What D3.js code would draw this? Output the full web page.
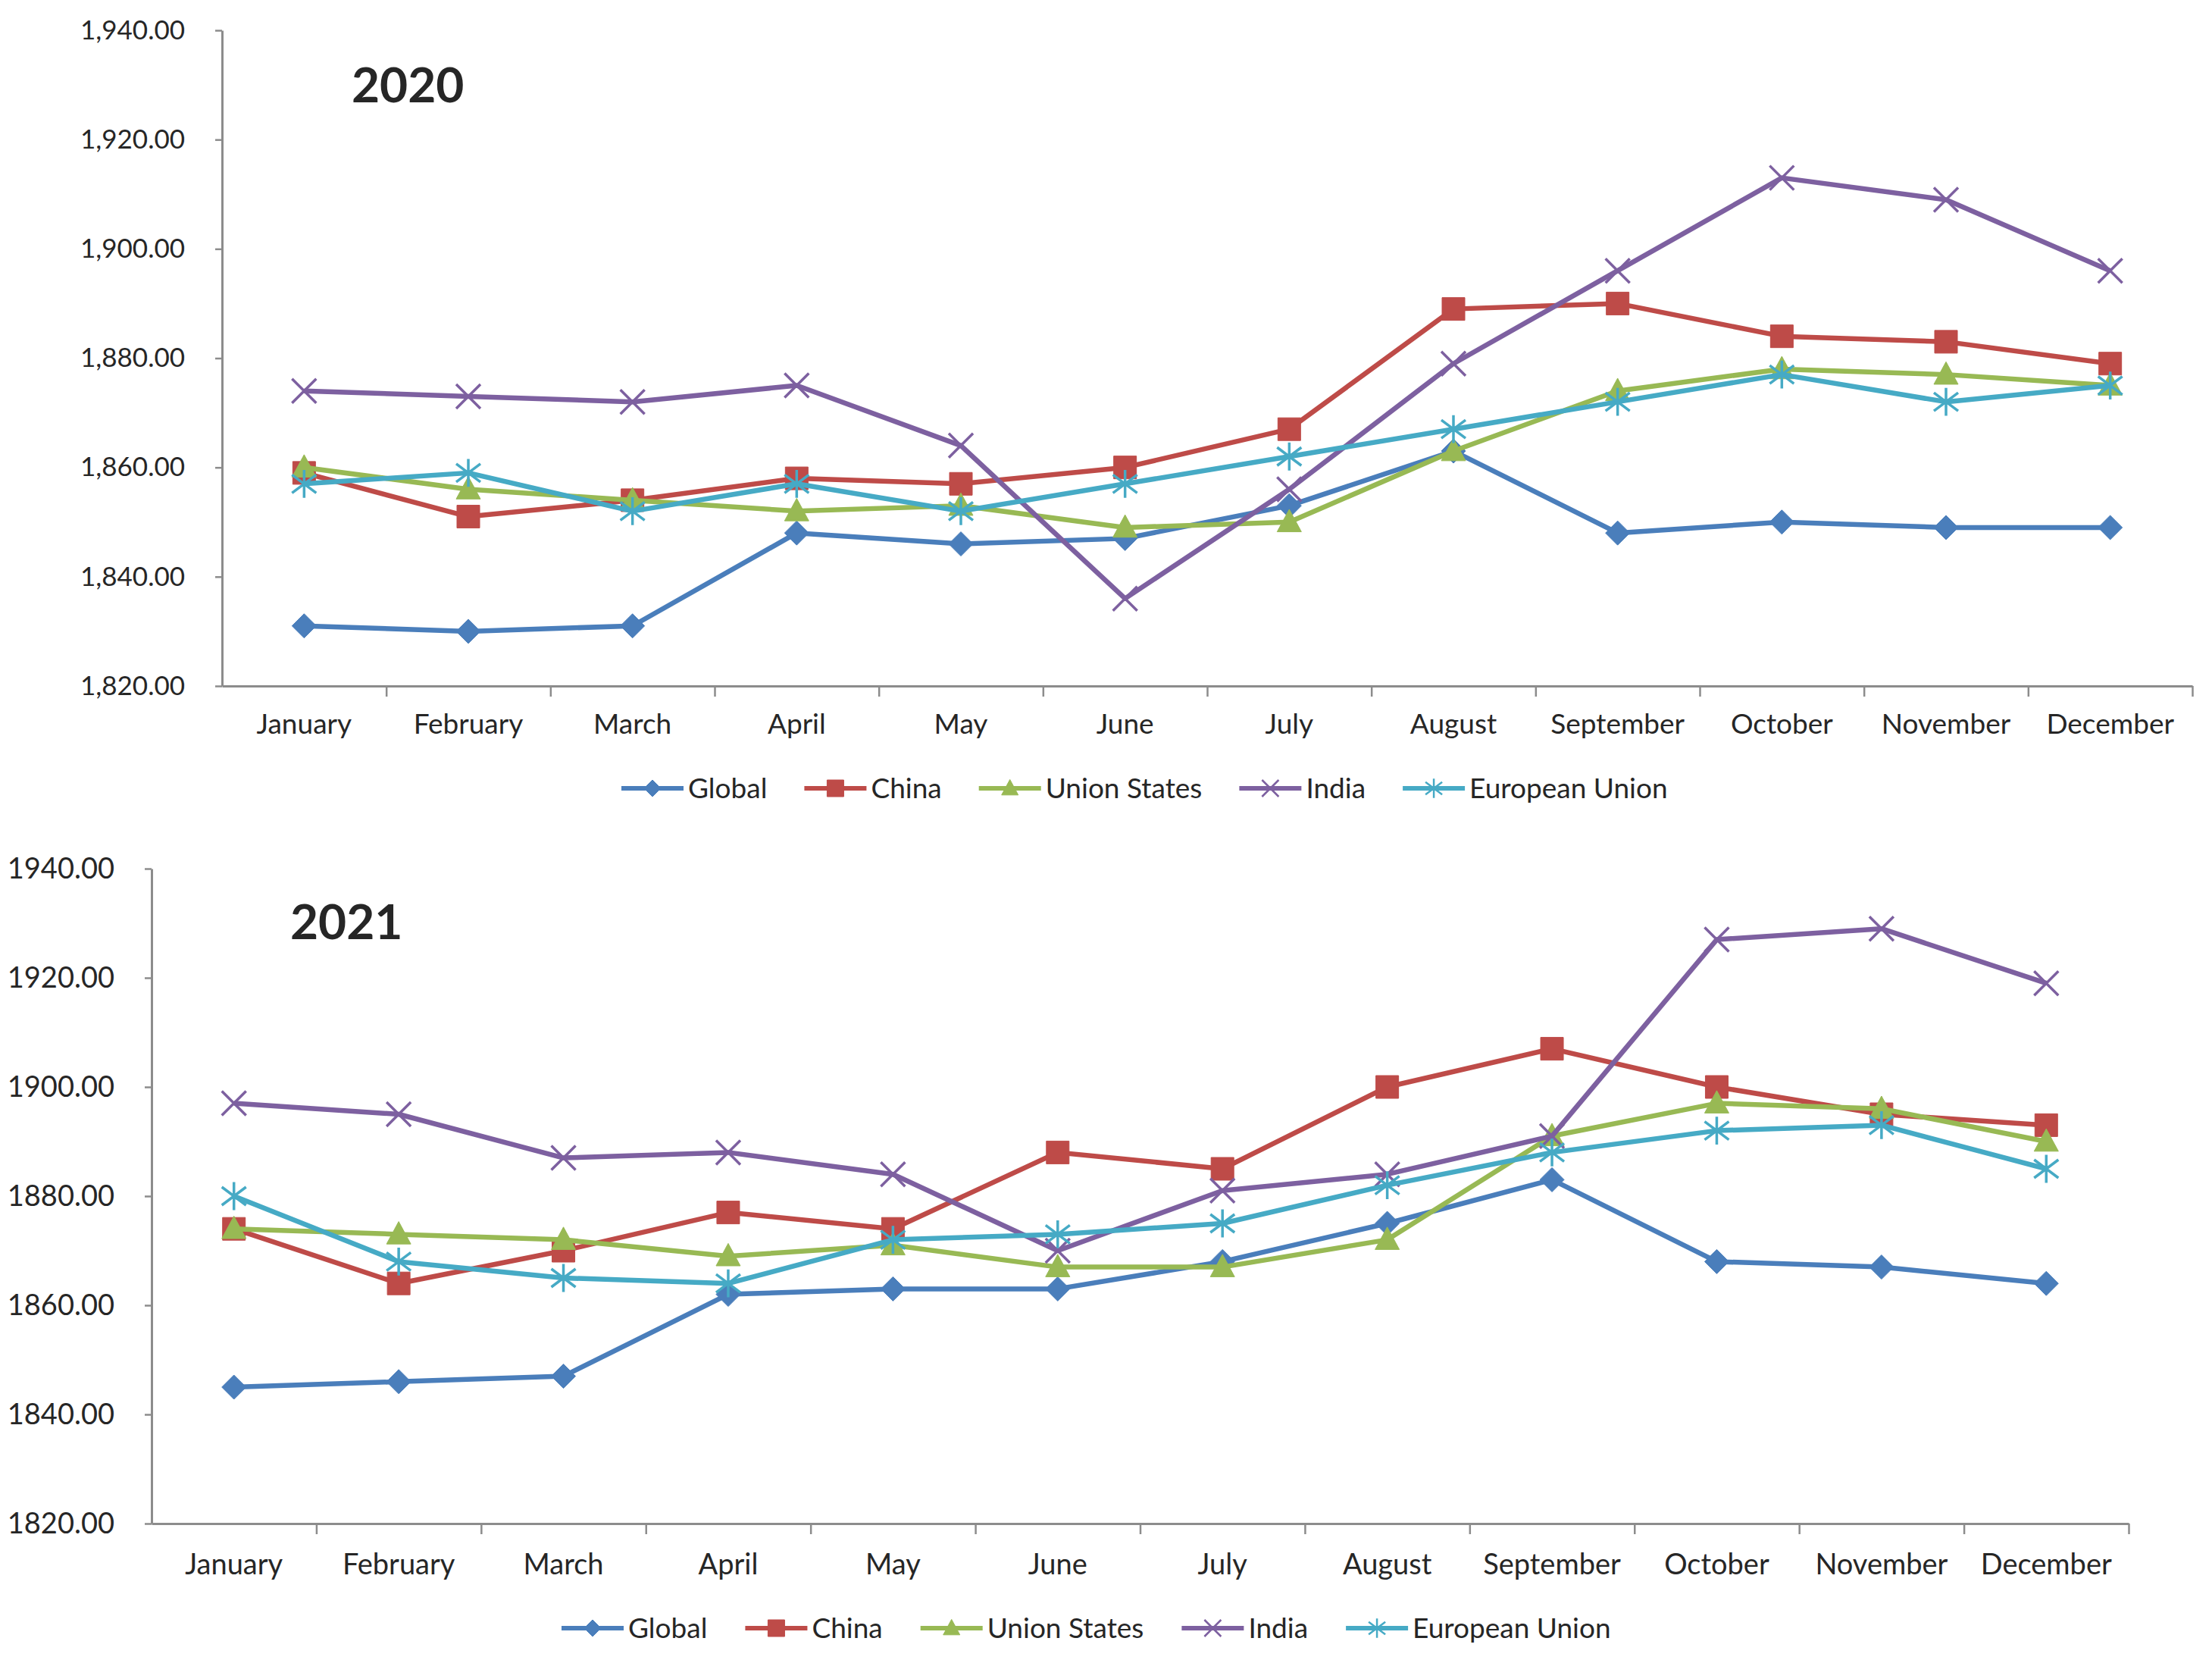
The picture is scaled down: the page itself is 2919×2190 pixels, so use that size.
<!DOCTYPE html>
<html>
<head>
<meta charset="utf-8">
<script src="https://cdn.jsdelivr.net/npm/d3@7"></script>
<style>
  body { margin: 0; background: #fff; }
  svg text { font-family: Lato, "Open Sans", sans-serif; fill: #262626; }
</style>
</head>
<body>
<div id="chart"></div>
<script>
// ---- data ----
const months = ["January", "February", "March", "April", "May", "June",
  "July", "August", "September", "October", "November", "December"];
const seriesNames = ["Global", "China", "Union States", "India", "European Union"];
const seriesColors = ["#4a7ebb", "#be4b48", "#98b954", "#7d60a0", "#46aac5"];
const seriesMarkers = ["diamond", "square", "triangle", "x", "star"];
const yTicks = [1820, 1840, 1860, 1880, 1900, 1920, 1940];

const global2020 = [1831, 1830, 1831, 1848, 1846, 1847, 1853, 1863, 1848, 1850, 1849, 1849];
const china2020  = [1859, 1851, 1854, 1858, 1857, 1860, 1867, 1889, 1890, 1884, 1883, 1879];
const us2020     = [1860, 1856, 1854, 1852, 1853, 1849, 1850, 1863, 1874, 1878, 1877, 1875];
const india2020  = [1874, 1873, 1872, 1875, 1864, 1836, 1856, 1879, 1896, 1913, 1909, 1896];
const eu2020     = [1857, 1859, 1852, 1857, 1852, 1857, 1862, 1867, 1872, 1877, 1872, 1875];

const global2021 = [1845, 1846, 1847, 1862, 1863, 1863, 1868, 1875, 1883, 1868, 1867, 1864];
const china2021  = [1874, 1864, 1870, 1877, 1874, 1888, 1885, 1900, 1907, 1900, 1895, 1893];
const us2021     = [1874, 1873, 1872, 1869, 1871, 1867, 1867, 1872, 1891, 1897, 1896, 1890];
const india2021  = [1897, 1895, 1887, 1888, 1884, 1870, 1881, 1884, 1891, 1927, 1929, 1919];
const eu2021     = [1880, 1868, 1865, 1864, 1872, 1873, 1875, 1882, 1888, 1892, 1893, 1885];

const W = 2919, H = 2190;

const svg = d3.select("#chart").append("svg")
  .attr("width", W)
  .attr("height", H);

function markerPath(type, s) {
  if (type === "diamond") return `M0,${-s}L${s},0L0,${s}L${-s},0Z`;
  if (type === "square") return `M${-s},${-s}H${s}V${s}H${-s}Z`;
  if (type === "triangle") return `M0,${-s * 1.05}L${s},${s * 0.8}L${-s},${s * 0.8}Z`;
  if (type === "x") return `M${-s},${-s}L${s},${s}M${-s},${s}L${s},${-s}`;
  // star = x with a vertical stroke
  return `M${-s},${-s * 0.75}L${s},${s * 0.75}M${-s},${s * 0.75}L${s},${-s * 0.75}M0,${-s * 1.15}V${s * 1.15}`;
}

function isFilled(type) {
  return type === "diamond" || type === "square" || type === "triangle";
}

function drawPanel(p) {
  const g = svg.append("g");

  const x = d3.scaleBand().domain(months).range([p.left, p.right]);
  const xEdges = d3.scaleLinear().domain([0, months.length]).range([p.left, p.right]);
  const y = d3.scaleLinear().domain([1820, 1940]).range([p.bottom, p.top]);

  // y axis
  const yAxis = g.append("g")
    .attr("transform", `translate(${p.left},0)`)
    .call(d3.axisLeft(y).tickValues(yTicks).tickFormat(p.fmt)
      .tickSizeInner(9).tickSizeOuter(0).tickPadding(40));
  yAxis.select(".domain").attr("stroke", "#8c8c8c").attr("stroke-width", 3);
  yAxis.selectAll(".tick line").attr("stroke", "#8c8c8c").attr("stroke-width", 2.5);
  yAxis.selectAll(".tick text").style("font-size", p.yFont + "px").attr("fill", "#262626");

  // x axis: tick marks at category boundaries
  const xAxis = g.append("g")
    .attr("transform", `translate(0,${p.bottom})`)
    .call(d3.axisBottom(xEdges).tickValues(d3.range(1, months.length + 1))
      .tickFormat("").tickSizeInner(14).tickSizeOuter(0));
  xAxis.select(".domain").attr("stroke", "#8c8c8c").attr("stroke-width", 3);
  xAxis.selectAll(".tick line").attr("stroke", "#8c8c8c").attr("stroke-width", 2.5);

  // x labels
  const xLab = g.append("g")
    .attr("transform", `translate(0,${p.bottom})`)
    .call(d3.axisBottom(x).tickSize(0).tickPadding(p.xPad));
  xLab.select(".domain").remove();
  xLab.selectAll(".tick text").style("font-size", p.xFont + "px").attr("fill", "#262626");

  // title
  g.append("text")
    .attr("x", p.titleX)
    .attr("y", p.titleY)
    .style("font-size", "64px")
    .style("font-weight", "bold")
    .attr("fill", "#000")
    .text(p.title);

  // lines + markers
  const line = d3.line()
    .x((d, i) => x(months[i]) + x.bandwidth() / 2)
    .y(d => y(d));

  p.series.forEach((vals, k) => {
    const color = seriesColors[k];
    const type = seriesMarkers[k];
    g.append("path")
      .datum(vals)
      .attr("fill", "none")
      .attr("stroke", color)
      .attr("stroke-width", 6.5)
      .attr("stroke-linejoin", "round")
      .attr("d", line);

    g.selectAll(".m" + k)
      .data(vals)
      .enter().append("path")
      .attr("class", "m" + k)
      .attr("transform", (d, i) => `translate(${x(months[i]) + x.bandwidth() / 2},${y(d)})`)
      .attr("d", markerPath(type, type === "square" ? 15 : 16))
      .attr("fill", isFilled(type) ? color : "none")
      .attr("stroke", color)
      .attr("stroke-width", isFilled(type) ? 1 : 3.5);
  });

  // legend
  const leg = g.append("g").attr("transform", `translate(${p.legendX},${p.legendY})`);
  let cx = 0;
  seriesNames.forEach((name, k) => {
    const item = leg.append("g").attr("transform", `translate(${cx},0)`);
    const color = seriesColors[k];
    const type = seriesMarkers[k];
    item.append("line")
      .attr("x1", 0).attr("x2", 82)
      .attr("stroke", color).attr("stroke-width", 6);
    item.append("path")
      .attr("transform", "translate(41,0)")
      .attr("d", markerPath(type, 11))
      .attr("fill", isFilled(type) ? color : "none")
      .attr("stroke", color)
      .attr("stroke-width", isFilled(type) ? 1 : 2.5);
    const t = item.append("text")
      .attr("x", 88)
      .attr("dy", "0.35em")
      .style("font-size", p.legFont + "px")
      .text(name);
    cx += 88 + t.node().getComputedTextLength() + p.legGap;
  });
}

drawPanel({
  title: "2020", titleX: 464, titleY: 135,
  left: 293, right: 2893, top: 40, bottom: 905,
  fmt: d3.format(",.2f"), yFont: 35, xFont: 37, xPad: 37, legFont: 37, legGap: 49,
  legendX: 820, legendY: 1040,
  series: [global2020, china2020, us2020, india2020, eu2020]
});

drawPanel({
  title: "2021", titleX: 383, titleY: 1239,
  left: 200, right: 2809, top: 1146, bottom: 2010,
  fmt: d3.format(".2f"), yFont: 38, xFont: 38, xPad: 40, legFont: 37, legGap: 50,
  legendX: 741, legendY: 2148,
  series: [global2021, china2021, us2021, india2021, eu2021]
});
</script>
</body>
</html>
